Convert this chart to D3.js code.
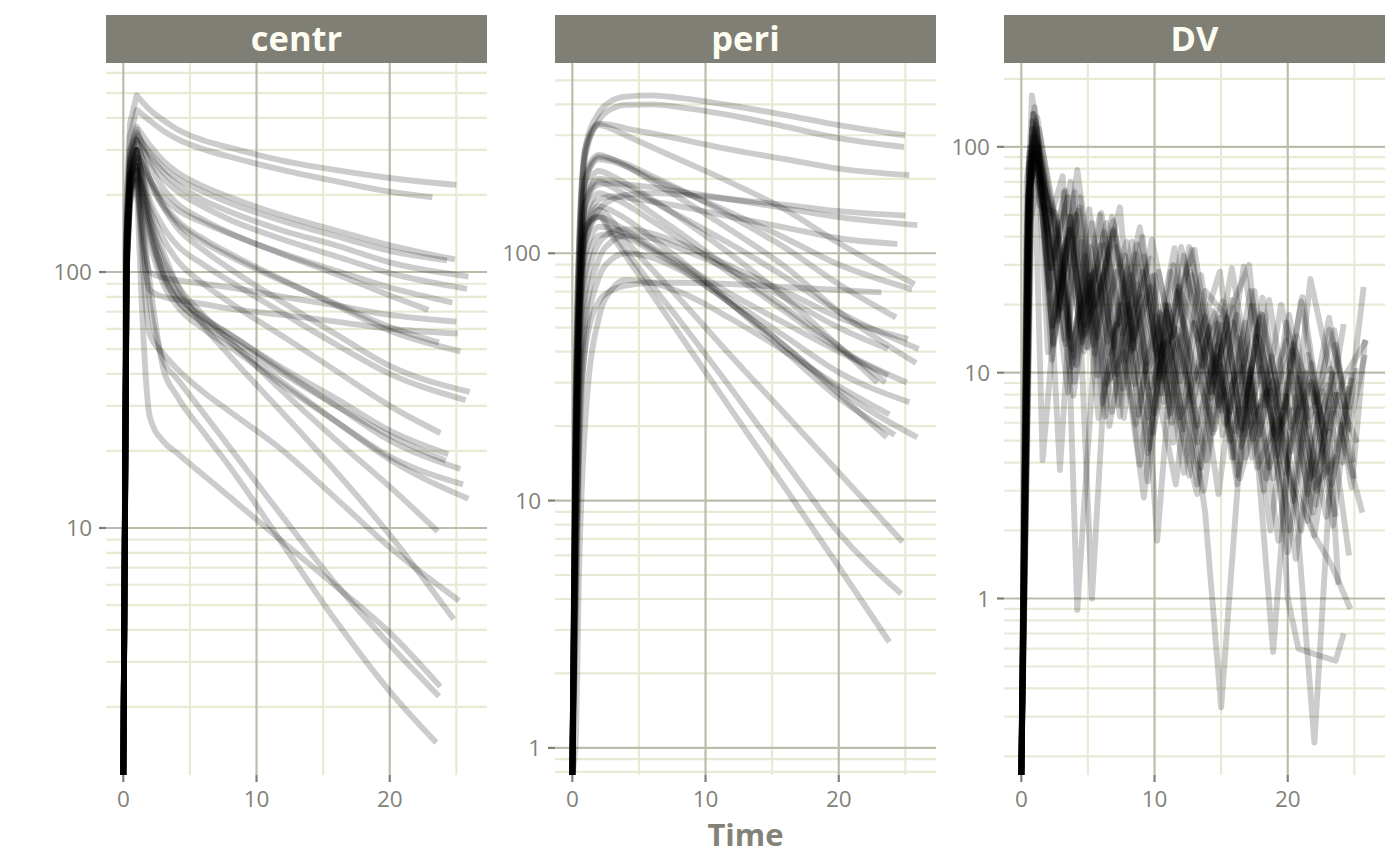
<!DOCTYPE html>
<html>
<head>
<meta charset="utf-8">
<script src="https://cdn.jsdelivr.net/npm/d3@7"></script>
<style>
  body { margin: 0; background: #ffffff; }
  svg { display: block; font-family: "Open Sans", sans-serif; }
</style>
</head>
<body>
<div id="chart"></div>
<script>
"use strict";

// ---- data ----
const facets = ["centr", "peri", "DV"];

// shared sampling grid for the compartment amounts, last point is each subject's end time
const sampleTimes = [0, 0.25, 0.5, 1, 2, 3, 4, 6, 8, 12, 16, 20];
const endTimes = [25.0, 23.2, 24.9, 24.3, 25.9, 25.8, 24.7, 22.9, 25.0, 25.1, 23.7, 25.3, 26.0,
                  25.7, 23.8, 24.4, 24.2, 25.3, 25.5, 25.9, 23.6, 25.2, 24.8, 23.8, 23.7, 23.5];

const centrValues = [
    [0, 200, 380, 490, 430, 392, 362, 327, 306, 272, 250, 233, 219],
    [0, 180, 340, 430, 390, 356, 332, 302, 282, 250, 226, 206, 196],
    [0, 150, 290, 370, 312, 272, 246, 216, 196, 166, 145, 127, 112],
    [0, 140, 270, 340, 292, 256, 233, 206, 186, 158, 138, 121, 111],
    [0, 145, 280, 350, 286, 246, 221, 191, 172, 145, 127, 109, 96],
    [0, 130, 260, 330, 270, 232, 208, 180, 160, 134, 115, 99, 86],
    [0, 120, 235, 300, 230, 196, 176, 156, 141, 118, 101, 87, 76],
    [0, 160, 300, 360, 262, 212, 186, 160, 142, 117, 98, 81, 71],
    [0, 110, 200, 250, 100, 95, 93, 90, 87, 80, 74, 68, 64],
    [0, 100, 185, 230, 85, 80, 78, 75, 72, 68, 64, 60, 57.5],
    [0, 130, 240, 300, 220, 180, 156, 131, 115, 92, 75, 61, 53],
    [0, 135, 255, 320, 230, 186, 160, 135, 118, 93, 74, 59, 49],
    [0, 140, 265, 330, 230, 180, 150, 122, 103, 76, 57, 43, 34],
    [0, 120, 230, 290, 190, 150, 128, 107, 92, 69, 52, 40, 31.6],
    [0, 130, 240, 300, 180, 135, 112, 90, 76, 56, 41, 30, 23.5],
    [0, 115, 220, 280, 150, 100, 82, 66, 57, 42, 32, 24, 19.4],
    [0, 105, 205, 260, 140, 95, 78, 64, 55, 40, 30, 23, 18.3],
    [0, 120, 230, 300, 160, 105, 84, 67, 57, 41, 30, 22, 17],
    [0, 100, 195, 250, 130, 90, 74, 60, 51, 36, 26, 19, 14.8],
    [0, 110, 215, 270, 145, 98, 79, 63, 53, 37, 26, 18.5, 13],
    [0, 115, 220, 280, 160, 112, 90, 68, 54, 34, 22, 14.5, 9.7],
    [0, 110, 210, 260, 57, 48, 42, 34, 28.5, 20, 13, 8.4, 5.2],
    [0, 125, 240, 300, 170, 120, 90, 62, 47, 28, 16.5, 9.4, 4.4],
    [0, 100, 190, 230, 27, 21.8, 19.7, 16.1, 13.2, 8.8, 5.9, 3.9, 2.4],
    [0, 105, 200, 250, 75, 45, 38.5, 28.2, 20.6, 11, 6.0, 3.5, 2.2],
    [0, 110, 210, 260, 90, 42, 33, 23.7, 17.3, 8.6, 4.3, 2.3, 1.45]
];

const periValues = [
    [0, 25, 100, 270, 370, 415, 430, 435, 425, 395, 362, 330, 300],
    [0, 6, 18, 42, 64, 71, 74, 76, 76, 75, 73, 71, 69.5],
    [0, 22, 90, 250, 345, 385, 398, 400, 390, 360, 325, 292, 269],
    [0, 18, 75, 200, 245, 240, 230, 205, 182, 140, 105, 75, 55],
    [0, 18, 70, 160, 190, 192, 190, 185, 178, 165, 152, 140, 130],
    [0, 20, 80, 210, 250, 240, 226, 195, 168, 123, 88, 58, 36],
    [0, 14, 55, 125, 142, 122, 103, 74, 54, 28, 14.3, 7.4, 4.2],
    [0, 16, 65, 180, 215, 205, 192, 165, 140, 98, 66, 42, 30],
    [0, 10, 40, 110, 150, 165, 172, 175, 173, 165, 157, 148, 142],
    [0, 12, 50, 140, 175, 168, 158, 135, 115, 82, 58, 41, 30],
    [0, 4, 18, 55, 95, 112, 118, 115, 105, 85, 66, 50, 41],
    [0, 30, 110, 270, 335, 330, 320, 305, 290, 262, 240, 220, 207],
    [0, 14, 60, 165, 200, 195, 185, 162, 142, 108, 80, 58, 41],
    [0, 25, 100, 260, 330, 318, 300, 268, 240, 192, 150, 110, 75],
    [0, 15, 60, 130, 140, 117, 98, 68, 47.5, 23, 11.2, 5.4, 2.68],
    [0, 12, 50, 130, 165, 170, 168, 162, 155, 140, 127, 115, 109],
    [0, 10, 45, 125, 155, 148, 138, 115, 95, 62, 40, 26, 18.4],
    [0, 8, 35, 100, 128, 126, 120, 104, 90, 64, 46, 33, 25],
    [0, 15, 70, 200, 240, 235, 225, 200, 180, 145, 115, 90, 71.5],
    [0, 6, 28, 85, 118, 120, 116, 102, 88, 62, 42, 28, 18],
    [0, 3, 14, 45, 80, 95, 100, 96, 86, 62, 42, 27, 18],
    [0, 5, 22, 70, 110, 122, 125, 120, 110, 88, 70, 55, 45],
    [0, 12, 50, 120, 150, 135, 113, 86, 66, 38, 22.3, 13, 6.8],
    [0, 1.05, 5, 22, 55, 72, 78, 76, 70, 54, 40, 29, 22.3],
    [0, 10, 42, 115, 140, 133, 124, 106, 92, 68, 52, 40, 32],
    [0, 14, 58, 160, 195, 185, 172, 145, 122, 85, 60, 42, 30]
];

// observed DV, each subject has its own sampling times
const dvTimes = [
    [0, 0.6, 1.3, 2.4, 3.8, 5.1, 6.5, 8.0, 9.6, 11.2, 12.9, 14.5, 16.2, 17.9, 19.5, 21.2, 22.9, 24.6],
    [0, 0.4, 1.0, 1.9, 3.1, 3.7, 5.6, 7.0, 8.3, 9.9, 11.6, 13.0, 14.8, 16.5, 18.1, 19.8, 21.4, 23.0],
    [0, 0.8, 1.5, 2.7, 4.0, 5.3, 6.6, 7.9, 9.4, 10.8, 12.2, 13.8, 15.3, 16.8, 18.6, 20.2, 21.8, 23.4, 24.8],
    [0, 0.5, 1.2, 2.2, 3.2, 4.2, 5.5, 6.8, 8.2, 9.7, 11.0, 12.6, 14.1, 15.7, 17.2, 18.8, 20.3, 21.9, 23.5, 24.2],
    [0, 0.7, 1.1, 2.0, 3.4, 4.6, 6.0, 7.4, 8.8, 10.3, 11.9, 13.5, 15.1, 16.6, 18.2, 19.9, 21.6, 23.2, 24.8, 25.8],
    [0, 0.5, 1.3, 2.5, 3.7, 4.9, 6.2, 7.6, 9.1, 10.5, 12.0, 13.6, 15.0, 16.7, 18.3, 19.9, 21.5, 23.1, 24.6, 25.7],
    [0, 0.6, 1.4, 2.6, 3.9, 5.2, 6.4, 7.7, 9.2, 10.6, 12.1, 13.7, 15.0, 16.4, 17.9, 19.3, 20.8, 22.0, 23.6, 24.6],
    [0, 0.9, 1.6, 2.9, 4.4, 5.7, 7.1, 8.5, 10.0, 11.4, 12.9, 14.3, 15.8, 17.3, 18.7, 20.1, 21.5, 22.8],
    [0, 0.4, 0.8, 1.7, 2.9, 4.1, 5.4, 6.9, 8.4, 9.7, 11.2, 12.7, 14.2, 15.8, 17.3, 18.9, 20.4, 22.0, 23.5, 24.9],
    [0, 0.6, 1.2, 2.3, 3.6, 4.8, 6.1, 7.4, 8.7, 10.2, 11.7, 13.2, 14.9, 16.4, 17.9, 19.5, 21.0, 22.6, 24.1, 25.1],
    [0, 0.5, 1.0, 2.1, 3.3, 4.5, 5.8, 7.2, 8.6, 10.1, 11.5, 13.2, 14.6, 16.0, 17.6, 19.2, 20.6, 22.1, 23.6],
    [0, 0.7, 1.5, 2.8, 4.0, 5.2, 6.7, 8.1, 9.5, 11.0, 12.4, 13.9, 15.4, 16.9, 18.5, 20.0, 21.7, 23.3, 24.8],
    [0, 0.5, 1.1, 2.2, 3.5, 4.7, 6.0, 7.3, 8.9, 10.4, 11.8, 13.3, 14.9, 16.5, 18.0, 19.6, 21.1, 22.7, 24.3, 25.9],
    [0, 0.8, 1.4, 2.6, 3.8, 5.1, 6.3, 7.8, 9.3, 10.7, 12.2, 13.8, 15.3, 16.8, 18.4, 19.9, 21.5, 23.0, 24.6, 25.6],
    [0, 0.6, 1.3, 2.4, 3.7, 5.0, 6.2, 7.6, 9.0, 10.2, 11.7, 13.2, 14.7, 16.2, 17.6, 19.1, 20.5, 22.0, 23.6],
    [0, 0.4, 1.0, 2.0, 3.2, 4.4, 5.7, 7.1, 8.5, 10.0, 11.4, 13.0, 14.5, 16.0, 17.5, 19.0, 20.6, 22.1, 23.6, 24.3],
    [0, 0.7, 1.2, 2.3, 3.4, 4.6, 5.9, 7.3, 8.7, 10.0, 11.6, 13.0, 14.4, 15.9, 17.4, 18.9, 20.4, 21.8, 23.2, 24.1],
    [0, 0.5, 1.2, 2.5, 3.9, 5.3, 6.6, 8.0, 9.5, 11.0, 12.4, 13.8, 15.0, 16.3, 17.8, 19.2, 20.7, 22.2, 23.7, 25.2],
    [0, 0.6, 1.5, 2.7, 4.1, 5.4, 6.8, 8.2, 9.7, 11.1, 12.6, 14.1, 15.7, 17.2, 18.9, 20.3, 21.9, 23.4, 25.0],
    [0, 0.8, 1.6, 2.8, 4.2, 5.6, 6.9, 8.3, 9.8, 11.3, 12.8, 14.2, 15.6, 17.1, 18.6, 20.1, 21.6, 23.1, 24.6, 25.8],
    [0, 0.5, 1.1, 2.2, 3.5, 4.8, 6.1, 7.5, 8.9, 10.4, 11.9, 13.4, 14.8, 16.3, 17.7, 19.2, 20.6, 22.0, 23.5],
    [0, 0.6, 1.3, 2.4, 3.6, 4.9, 6.3, 7.7, 9.1, 10.5, 12.0, 13.5, 15.0, 16.5, 18.0, 19.5, 20.0, 20.8, 22.3, 23.6, 24.2],
    [0, 0.4, 0.9, 1.8, 3.0, 4.3, 5.5, 6.9, 8.4, 9.8, 11.3, 12.8, 14.3, 15.9, 17.4, 18.8, 20.5, 22.0, 23.3, 24.7],
    [0, 0.7, 1.4, 2.6, 3.9, 5.2, 6.6, 8.0, 9.5, 10.9, 12.3, 13.2, 14.7, 16.2, 17.2, 18.7, 20.2, 21.7, 23.1, 23.8],
    [0, 0.5, 1.0, 2.1, 3.3, 4.5, 5.9, 7.2, 8.6, 10.0, 11.5, 12.9, 14.4, 15.8, 17.3, 18.8, 20.3, 21.7, 23.2],
    [0, 0.6, 1.2, 2.4, 3.7, 4.9, 6.4, 7.8, 9.2, 10.7, 12.2, 13.6, 15.1, 16.6, 18.1, 19.6, 21.0, 22.4, 23.4]
];

const dvValues = [
    [0, 95, 120, 54, 10.6, 53, 13.7, 20, 4.6, 28, 11, 5.6, 18, 5.3, 20, 7.1, 2.3, 8.7],
    [0, 70, 150, 42, 74, 14.4, 29, 13, 38, 5.4, 21, 35, 7.2, 10.4, 18, 3.6, 10, 5.5],
    [0, 110, 85, 17, 63, 1.0, 21, 38, 11, 20, 5.6, 23, 18, 4.2, 21, 5.7, 9.1, 2.1, 10],
    [0, 55, 105, 29, 63, 0.89, 12.9, 49, 17.4, 32, 6.4, 36, 13.3, 6.7, 23, 7.6, 12.5, 3.5, 9.1, 16.4],
    [0, 80, 130, 12.3, 38.5, 14.4, 24.6, 54, 6.5, 28, 9.2, 27, 5.3, 10.6, 3.0, 16.7, 6.3, 10.4, 3.1, 14],
    [0, 60, 100, 32, 70, 16.3, 42, 14.9, 40, 8.1, 36, 13.2, 6.8, 29.5, 7.2, 13.8, 2.9, 15.5, 7.0, 24],
    [0, 85, 65, 29, 7.9, 25, 8.9, 12.3, 2.8, 18, 6.5, 3.0, 10.7, 3.4, 7.1, 1.8, 9.5, 3.1, 4.2, 1.55],
    [0, 140, 4.1, 32, 54, 9.7, 28, 8.9, 27, 4.9, 16.5, 8.2, 21, 4.2, 8.3, 2.0, 12, 5.3],
    [0, 40, 169, 75, 3.7, 50, 13.3, 47, 14, 24, 6.6, 28, 8.2, 29, 8.8, 3.4, 13.4, 7.4, 15.4, 4.0],
    [0, 65, 90, 16, 49, 14.8, 27, 6.4, 37, 12, 15.6, 4.9, 17.5, 5.3, 17.6, 5.6, 2.0, 8.3, 4.0, 10.5],
    [0, 75, 115, 51, 13.4, 38, 6.3, 16.4, 5.9, 17.8, 7.3, 2.9, 11.9, 4.2, 13, 4.8, 1.5, 6.6, 2.3],
    [0, 100, 70, 40, 9.1, 36, 9.4, 19, 4.4, 19.6, 9.8, 4.1, 17.5, 5.3, 8.3, 1.6, 8.8, 3.2, 9.5],
    [0, 50, 125, 29, 60, 12.4, 51, 16.4, 44, 9.5, 24, 14, 28, 5.7, 18.2, 7.0, 21.6, 5.2, 9.7, 13.9],
    [0, 120, 55, 51, 12.7, 27, 6.4, 33, 10.1, 13.7, 3.6, 17.7, 5.9, 16.7, 3.4, 7.9, 2.2, 8.8, 4.0, 2.4],
    [0, 90, 100, 13.5, 43, 12.9, 37, 8.5, 21.8, 1.8, 23, 5.8, 13.2, 3.2, 14.4, 5.1, 7.7, 1.9, 8.2],
    [0, 35, 95, 58, 14.1, 60, 14.3, 36, 14.6, 6.6, 30, 9.4, 18.3, 5.5, 23, 5.3, 9.6, 2.6, 13.3, 6.9],
    [0, 75, 110, 11.4, 35.5, 13.6, 36.5, 7.2, 24.7, 9.6, 3.2, 16.7, 5.4, 19.4, 6.6, 9.2, 2.7, 11, 3.6, 6.0],
    [0, 60, 135, 45, 11.8, 46, 12.2, 29, 6.3, 20, 9.1, 2.4, 0.33, 3.5, 14.4, 4.3, 14.5, 3.0, 8.0, 4.9],
    [0, 45, 80, 45.6, 10.8, 28, 6.7, 27, 8.6, 13.6, 3.5, 16, 5.0, 10.4, 0.58, 6.8, 2.4, 9.9, 3.4],
    [0, 130, 60, 18, 79, 19.6, 42, 12.5, 38.8, 14.4, 35, 7.7, 18.5, 30, 3.8, 18, 5.8, 17.5, 5.6, 12],
    [0, 65, 85, 37, 8.2, 33, 7.3, 20, 3.9, 18.5, 6.3, 10.7, 2.9, 14.2, 3.8, 6.2, 2.6, 0.23, 6.8],
    [0, 70, 95, 16.2, 43, 13, 28.6, 6.3, 28, 9.3, 14.6, 3.8, 16.3, 4.7, 10.5, 3, 1.0, 0.6, 0.56, 0.53, 0.7],
    [0, 30, 140, 73, 19.2, 52, 12.1, 43, 12.8, 26.7, 6.0, 27, 9.9, 16.7, 5.1, 11.8, 3.1, 1.9, 1.4, 0.9],
    [0, 95, 75, 46, 11, 27, 5.8, 16.3, 3.3, 18.7, 6.9, 3.2, 16.5, 3.5, 9.5, 2.0, 10.1, 3.4, 5.5, 1.15],
    [0, 55, 120, 23.5, 64, 17.6, 50, 9.8, 33.5, 12.6, 35.6, 7.4, 18.8, 4.2, 19.8, 8.0, 4.5, 26, 10],
    [0, 80, 105, 13.2, 49, 18, 46, 11.3, 32.8, 7.4, 33, 10.7, 20.7, 5.6, 21.5, 6.0, 20.7, 6.1, 10]
];

const xMajorTicks = [0, 10, 20];
const xMinorTicks = [5, 15, 25];

// ---- layout ----
const width = 1400, height = 865;
const panelTop = 63, panelH = 712;
const panelW = 381, panelGap = 68, panelLeft = 106;
const stripTop = 15, stripH = 48;

const colStrip = "#7f7f75";
const colStripText = "#fdfdf2";
const colMajor = "#bcbcad";
const colMinor = "#e9e9d6";
const colText = "#828279";

// build series as arrays of {t, v}
function gridSeries(values) {
    return values.map((row, i) => sampleTimes.concat([endTimes[i]]).map((t, j) => ({ t: t, v: row[j] })));
}
const seriesByFacet = {
    centr: gridSeries(centrValues),
    peri: gridSeries(periValues),
    DV: dvValues.map((row, i) => row.map((v, j) => ({ t: dvTimes[i][j], v: v })))
};

// x scale shared by all facets, ggplot-like 5% expansion
const allTimes = d3.merge(Object.values(seriesByFacet).map(s => d3.merge(s).map(d => d.t)));
const tExt = d3.extent(allTimes);
const tPad = (tExt[1] - tExt[0]) * 0.05;
const x = d3.scaleLinear().domain([tExt[0] - tPad, tExt[1] + tPad]).range([0, panelW]);

const svg = d3.select("#chart").append("svg")
    .attr("width", width)
    .attr("height", height);

facets.forEach((name, k) => {
    const series = seriesByFacet[name];
    const pos = d3.merge(series).map(d => d.v).filter(v => v > 0);
    const lo = Math.log10(d3.min(pos)), hi = Math.log10(d3.max(pos));
    const pad = (hi - lo) * 0.05;
    const y = d3.scaleLog()
        .domain([Math.pow(10, lo - pad), Math.pow(10, hi + pad)])
        .range([panelH, 0]);
    const [dLo, dHi] = y.domain();

    const majors = [], minors = [];
    for (let e = Math.floor(Math.log10(dLo)); e <= Math.ceil(Math.log10(dHi)); e++) {
        const base = Math.pow(10, e);
        if (base >= dLo && base <= dHi) majors.push(base);
        for (let m = 2; m <= 9; m++) {
            const v = m * base;
            if (v >= dLo && v <= dHi) minors.push(v);
        }
    }

    const g = svg.append("g")
        .attr("transform", `translate(${panelLeft + k * (panelW + panelGap)},${panelTop})`);

    g.append("clipPath").attr("id", "clip" + k)
        .append("rect").attr("width", panelW).attr("height", panelH);

    // minor grid
    g.selectAll("line.hminor").data(minors).enter().append("line")
        .attr("x1", 0).attr("x2", panelW)
        .attr("y1", d => y(d)).attr("y2", d => y(d))
        .style("stroke", colMinor).style("stroke-width", 2.2);
    g.selectAll("line.vminor").data(xMinorTicks).enter().append("line")
        .attr("y1", 0).attr("y2", panelH)
        .attr("x1", d => x(d)).attr("x2", d => x(d))
        .style("stroke", colMinor).style("stroke-width", 2.2);

    // major grid
    g.selectAll("line.hmajor").data(majors).enter().append("line")
        .attr("x1", 0).attr("x2", panelW)
        .attr("y1", d => y(d)).attr("y2", d => y(d))
        .style("stroke", colMajor).style("stroke-width", 2.2);
    g.selectAll("line.vmajor").data(xMajorTicks).enter().append("line")
        .attr("y1", 0).attr("y2", panelH)
        .attr("x1", d => x(d)).attr("x2", d => x(d))
        .style("stroke", colMajor).style("stroke-width", 2.2);

    // subject lines, zeros go to the panel floor like -Inf in ggplot
    const px = d => x(d.t), py = d => d.v > 0 ? y(d.v) : panelH;
    const straight = d3.line().x(px).y(py);
    const smooth = d3.line().x(px).y(py).curve(d3.curveMonotoneX);
    function pathFor(pts) {
        if (name === "DV") return straight(pts);
        if (name === "centr") {
            // sharp peak at t = 1: straight rise, smooth decline
            const iPeak = sampleTimes.indexOf(1);
            return straight(pts.slice(0, iPeak + 1)) + smooth(pts.slice(iPeak)).replace(/^M/, "L");
        }
        return smooth(pts);
    }

    g.append("g").attr("clip-path", `url(#clip${k})`)
        .selectAll("path").data(series).enter().append("path")
        .attr("d", pathFor)
        .style("fill", "none")
        .style("stroke", "#000")
        .style("stroke-opacity", 0.2)
        .style("stroke-width", 5.9)
        .style("stroke-linejoin", "round");

    // y axis ticks + labels
    g.selectAll("line.ytick").data(majors).enter().append("line")
        .attr("x1", -7).attr("x2", 0)
        .attr("y1", d => y(d)).attr("y2", d => y(d))
        .style("stroke", colStrip).style("stroke-width", 2.2);
    g.selectAll("text.ylab").data(majors).enter().append("text")
        .attr("x", -14).attr("y", d => y(d))
        .attr("dy", "0.36em")
        .attr("text-anchor", "end")
        .style("font-size", "22.5px")
        .style("fill", colText)
        .text(d => d3.format("~g")(d));

    // x axis ticks + labels
    g.selectAll("line.xtick").data(xMajorTicks).enter().append("line")
        .attr("y1", panelH).attr("y2", panelH + 7)
        .attr("x1", d => x(d)).attr("x2", d => x(d))
        .style("stroke", colStrip).style("stroke-width", 2.2);
    g.selectAll("text.xlab").data(xMajorTicks).enter().append("text")
        .attr("x", d => x(d)).attr("y", panelH + 32)
        .attr("text-anchor", "middle")
        .style("font-size", "22.5px")
        .style("fill", colText)
        .text(d => d);

    // strip
    g.append("rect")
        .attr("x", 0).attr("y", stripTop - panelTop)
        .attr("width", panelW).attr("height", stripH)
        .style("fill", colStrip);
    g.append("text")
        .attr("x", panelW / 2).attr("y", stripTop - panelTop + stripH / 2)
        .attr("dy", "0.35em")
        .attr("text-anchor", "middle")
        .style("font-size", "34.5px")
        .style("font-weight", "bold")
        .style("fill", colStripText)
        .text(name);
});

svg.append("text")
    .attr("x", panelLeft + (3 * panelW + 2 * panelGap) / 2)
    .attr("y", 846)
    .attr("text-anchor", "middle")
    .style("font-size", "31px")
    .style("font-weight", "bold")
    .style("fill", colText)
    .text("Time");
</script>
</body>
</html>
